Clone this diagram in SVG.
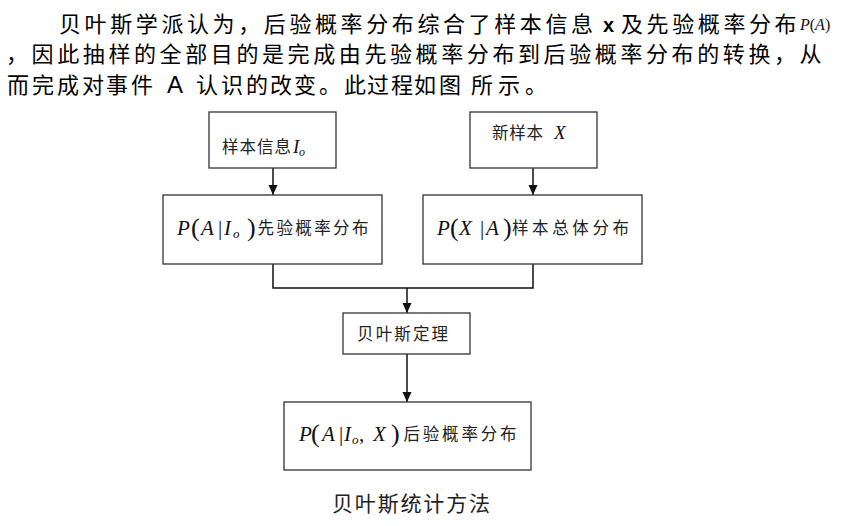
<svg xmlns="http://www.w3.org/2000/svg" width="843" height="526" viewBox="0 0 843 526">
<defs>
<style>
.body{font-family:"Noto Sans CJK SC","Noto Sans",sans-serif;font-size:22px;fill:#000;letter-spacing:3.6px}
.lat{font-family:"Liberation Sans",Arial,sans-serif;fill:#000}
.cjk{font-family:"Noto Sans CJK SC",sans-serif;fill:#222}
.m{font-family:"Liberation Serif","Times New Roman",serif;font-style:italic;fill:#111}
.mu{font-family:"Liberation Serif","Times New Roman",serif;fill:#111}
.box{fill:#fff;stroke:#333;stroke-width:1.3}
.conn{fill:none;stroke:#111;stroke-width:1.5}
</style>
<marker id="ah" markerWidth="10" markerHeight="10" refX="10" refY="5" orient="auto" markerUnits="userSpaceOnUse">
<path d="M0,0.5 L10,5 L0,9.5 z" fill="#111"/>
</marker>
</defs>
<rect width="843" height="526" fill="#fff"/>

<g id="paragraph">
<text class="body" x="59" y="31.5">贝叶斯学派认为，后验概率分布综合了样本信息</text>
<text class="lat" x="603" y="31.5" font-size="20" font-weight="bold">x</text>
<text class="body" x="621" y="31.5">及先验概率分布</text>
<text x="800" y="30" font-size="16"><tspan class="m">P</tspan><tspan class="mu">(</tspan><tspan class="m">A</tspan><tspan class="mu">)</tspan></text>
<text class="body" x="6" y="61.5">，因此抽样的全部目的是完成由先验概率分布到后验概率分布的转换，从</text>
<text class="body" style="letter-spacing:0" x="7 32 57 82 106 131" y="93">而完成对事件</text>
<text class="lat" x="167" y="93" font-size="24">A</text>
<text class="body" style="letter-spacing:0" x="196 221 246 270 294 319 344 367 391 414 439 471 498 525" y="93">认识的改变。此过程如图所示。</text>
</g>

<g id="connectors">
<line class="conn" x1="273" y1="168" x2="273" y2="195" marker-end="url(#ah)"/>
<line class="conn" x1="533" y1="168" x2="533" y2="195" marker-end="url(#ah)"/>
<polyline class="conn" points="273,264 273,288 533,288 533,264"/>
<line class="conn" x1="407" y1="288" x2="407" y2="313" marker-end="url(#ah)"/>
<line class="conn" x1="407" y1="354" x2="407" y2="402" marker-end="url(#ah)"/>
</g>

<g id="node-sample-info">
<rect class="box" x="209" y="112" width="127" height="56"/>
<text class="cjk" x="222" y="153" font-size="16.5" textLength="69" lengthAdjust="spacing">样本信息</text>
<text class="m" x="293" y="153" font-size="19">I</text>
<text class="m" x="299" y="156" font-size="12">o</text>
</g>

<g id="node-new-sample">
<rect class="box" x="470" y="112" width="127" height="56"/>
<text class="cjk" x="492" y="139" font-size="16.5" textLength="51" lengthAdjust="spacing">新样本</text>
<text class="m" x="554" y="139" font-size="19">X</text>
</g>

<g id="node-prior">
<rect class="box" x="163" y="195" width="219" height="69"/>
<text class="m" x="177" y="235" font-size="21">P</text>
<text class="mu" x="191" y="236" font-size="26">(</text>
<text class="m" x="201" y="235" font-size="21">A</text>
<text class="mu" x="218" y="235" font-size="21">|</text>
<text class="m" x="224" y="235" font-size="21">I</text>
<text class="m" x="233" y="238" font-size="13">o</text>
<text class="mu" x="247" y="236" font-size="26">)</text>
<text class="cjk" x="257.5" y="234" font-size="16.5" textLength="111" lengthAdjust="spacing">先验概率分布</text>
</g>

<g id="node-likelihood">
<rect class="box" x="423" y="195" width="219" height="69"/>
<text class="m" x="437" y="235" font-size="21">P</text>
<text class="mu" x="450" y="236" font-size="26">(</text>
<text class="m" x="459" y="235" font-size="21">X</text>
<text class="mu" x="480" y="235" font-size="21">|</text>
<text class="m" x="486" y="235" font-size="21">A</text>
<text class="mu" x="503" y="236" font-size="26">)</text>
<text class="cjk" x="512" y="234" font-size="16.5" textLength="117" lengthAdjust="spacing">样本总体分布</text>
</g>

<g id="node-bayes">
<rect class="box" x="343" y="313" width="127" height="41"/>
<text class="cjk" x="357" y="340" font-size="16.5" textLength="91" lengthAdjust="spacing">贝叶斯定理</text>
</g>

<g id="node-posterior">
<rect class="box" x="284" y="402" width="247" height="68"/>
<text class="m" x="299" y="441" font-size="21">P</text>
<text class="mu" x="311" y="442" font-size="26">(</text>
<text class="m" x="322" y="441" font-size="21">A</text>
<text class="mu" x="339" y="441" font-size="21">|</text>
<text class="m" x="344" y="441" font-size="21">I</text>
<text class="m" x="352" y="444" font-size="13">o</text>
<text class="mu" x="359" y="441" font-size="21">,</text>
<text class="m" x="373" y="441" font-size="21">X</text>
<text class="mu" x="391" y="442" font-size="26">)</text>
<text class="cjk" x="403.5" y="440" font-size="16.5" textLength="113" lengthAdjust="spacing">后验概率分布</text>
</g>

<g id="caption">
<text class="cjk" x="332" y="511" font-size="21" textLength="158" lengthAdjust="spacing" fill="#111">贝叶斯统计方法</text>
</g>
</svg>
